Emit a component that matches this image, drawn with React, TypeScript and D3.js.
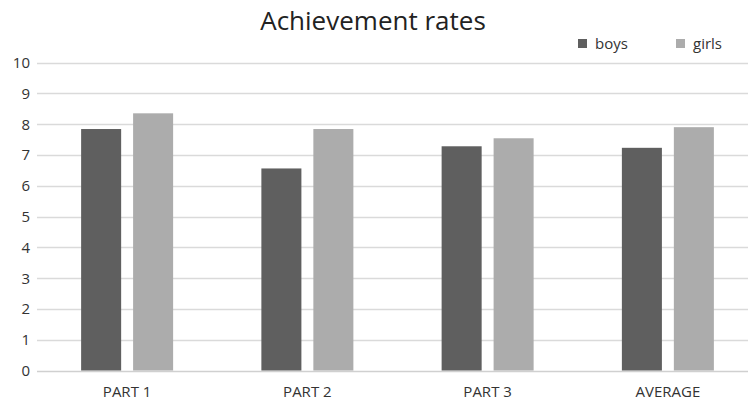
import React, { useEffect, useRef } from 'react';
import * as d3 from 'd3';

const categories = ['PART 1', 'PART 2', 'PART 3', 'AVERAGE'];
const seriesNames = ['boys', 'girls'];
const boys = [7.84, 6.56, 7.28, 7.23];
const girls = [8.35, 7.84, 7.54, 7.9];
const yTicks = [0, 1, 2, 3, 4, 5, 6, 7, 8, 9, 10];

const colors: Record<string, string> = {
    boys: '#5f5f5f',
    girls: '#acacac'
};

export default function App() {
    const svgRef = useRef<SVGSVGElement>(null);

    useEffect(() => {
        if (!svgRef.current) return;
        const width = 748;
        const height = 404;
        const font = '"Open Sans", sans-serif';
        const textColor = '#333333';

        const svg = d3.select(svgRef.current);
        svg.selectAll('*').remove();
        svg.attr('width', width).attr('height', height);

        const x0 = d3.scaleBand<string>().domain(categories).range([37, 758]).padding(0);
        const x1 = d3.scaleBand<string>().domain(seriesNames).range([0, 92]).paddingInner(0.23);
        const y = d3.scaleLinear().domain([0, 10]).range([370.5, 62.5]);

        // gridlines
        svg.append('g')
            .selectAll('line')
            .data(yTicks)
            .join('line')
            .attr('x1', 37)
            .attr('x2', width)
            .attr('y1', d => Math.round(y(d)) + 0.5)
            .attr('y2', d => Math.round(y(d)) + 0.5)
            .attr('stroke', d => (d === 0 ? '#d0d0d0' : '#dadada'))
            .attr('stroke-width', 1.5);

        // y tick labels
        svg.append('g')
            .selectAll('text')
            .data(yTicks)
            .join('text')
            .attr('x', 30)
            .attr('y', d => y(d))
            .attr('dy', '0.36em')
            .attr('text-anchor', 'end')
            .attr('font-family', font)
            .attr('font-size', 15)
            .attr('fill', textColor)
            .text(d => d);

        const rows = categories.map((c, i) => ({ cat: c, boys: boys[i], girls: girls[i] }));

        // bars
        const groups = svg.append('g')
            .selectAll('g')
            .data(rows)
            .join('g')
            .attr('transform', d => `translate(${x0(d.cat)! + x0.bandwidth() / 2 - 46},0)`);

        groups.selectAll('rect')
            .data(d => seriesNames.map(k => ({ key: k, value: (d as any)[k] as number })))
            .join('rect')
            .attr('x', d => x1(d.key)!)
            .attr('width', x1.bandwidth())
            .attr('y', d => y(d.value))
            .attr('height', d => y(0) - y(d.value))
            .attr('fill', d => colors[d.key]);

        // x labels
        svg.append('g')
            .selectAll('text')
            .data(categories)
            .join('text')
            .attr('x', d => x0(d)! + x0.bandwidth() / 2)
            .attr('y', 397)
            .attr('text-anchor', 'middle')
            .attr('font-family', font)
            .attr('font-size', 15)
            .attr('fill', textColor)
            .text(d => d);

        // title
        svg.append('text')
            .attr('x', 373)
            .attr('y', 30)
            .attr('text-anchor', 'middle')
            .attr('font-family', font)
            .attr('font-size', 26)
            .attr('fill', '#222222')
            .text('Achievement rates');

        // legend
        const legendX = [578, 676];
        const legend = svg.append('g')
            .selectAll('g')
            .data(seriesNames)
            .join('g')
            .attr('transform', (d, i) => `translate(${legendX[i]},39)`);
        legend.append('rect')
            .attr('width', 9)
            .attr('height', 9)
            .attr('fill', d => colors[d]);
        legend.append('text')
            .attr('x', 17)
            .attr('y', 10)
            .attr('font-family', font)
            .attr('font-size', 15)
            .attr('fill', textColor)
            .text(d => d);
    }, []);

    return <svg ref={svgRef} style={{ position: 'absolute', left: 0, top: 0, background: '#fff' }} />;
}
